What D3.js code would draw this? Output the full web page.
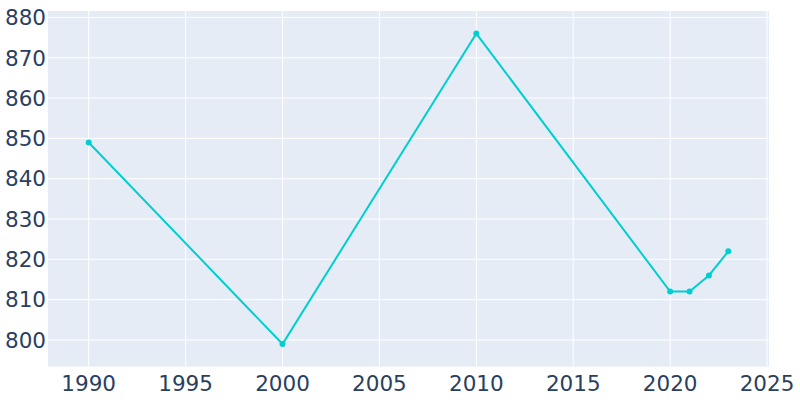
<!DOCTYPE html>
<html><head><meta charset="utf-8">
<script src="https://cdn.jsdelivr.net/npm/d3@7"></script>
<style>body{margin:0;background:#fff}svg{display:block}</style>
</head><body>
<script>
const years = [1990, 2000, 2010, 2020, 2021, 2022, 2023];
const values = [849, 799, 876, 812, 812, 816, 822];
const xTicks = [1990, 1995, 2000, 2005, 2010, 2015, 2020, 2025];
const yTicks = [800, 810, 820, 830, 840, 850, 860, 870, 880];

(function () {
const W = 800, H = 400;
const pl = 48, pr = 769, pt = 11, pb = 366.6;
const svg = d3.select("body").append("svg").attr("width", W).attr("height", H);

const x = d3.scaleLinear().domain([1987.9, 2025.1]).range([pl, pr]);
const y = d3.scaleLinear().domain([793.4, 881.6]).range([pb, pt]);

svg.append("rect").attr("x", pl).attr("y", pt).attr("width", pr - pl).attr("height", pb - pt).attr("fill", "#E5ECF6");

const g = svg.append("g");
g.append("g").selectAll("line").data(xTicks).join("line")
  .attr("x1", d => x(d)).attr("x2", d => x(d)).attr("y1", pt).attr("y2", pb)
  .attr("stroke", "#fff").attr("stroke-width", 1);
g.append("g").selectAll("line").data(yTicks).join("line")
  .attr("x1", pl).attr("x2", pr).attr("y1", d => y(d)).attr("y2", d => y(d))
  .attr("stroke", "#fff").attr("stroke-width", 1);

const font = "'DejaVu Sans', sans-serif";
svg.append("g").selectAll("text").data(xTicks).join("text")
  .attr("x", d => x(d)).attr("y", 390.5).attr("text-anchor", "middle")
  .attr("font-family", font).attr("font-size", 21.5).attr("fill", "#2a3f5f")
  .text(d => d);
svg.append("g").selectAll("text").data(yTicks).join("text")
  .attr("x", 46).attr("y", d => y(d)).attr("dy", "0.36em").attr("text-anchor", "end")
  .attr("font-family", font).attr("font-size", 21.5).attr("fill", "#2a3f5f")
  .text(d => d);

const pts = years.map((yr, i) => [yr, values[i]]);
svg.append("path").datum(pts)
  .attr("d", d3.line().x(d => x(d[0])).y(d => y(d[1])))
  .attr("fill", "none").attr("stroke", "#00CED1").attr("stroke-width", 2);
svg.append("g").selectAll("circle").data(pts).join("circle")
  .attr("cx", d => x(d[0])).attr("cy", d => y(d[1])).attr("r", 3)
  .attr("fill", "#00CED1");
})();
</script>
</body></html>
